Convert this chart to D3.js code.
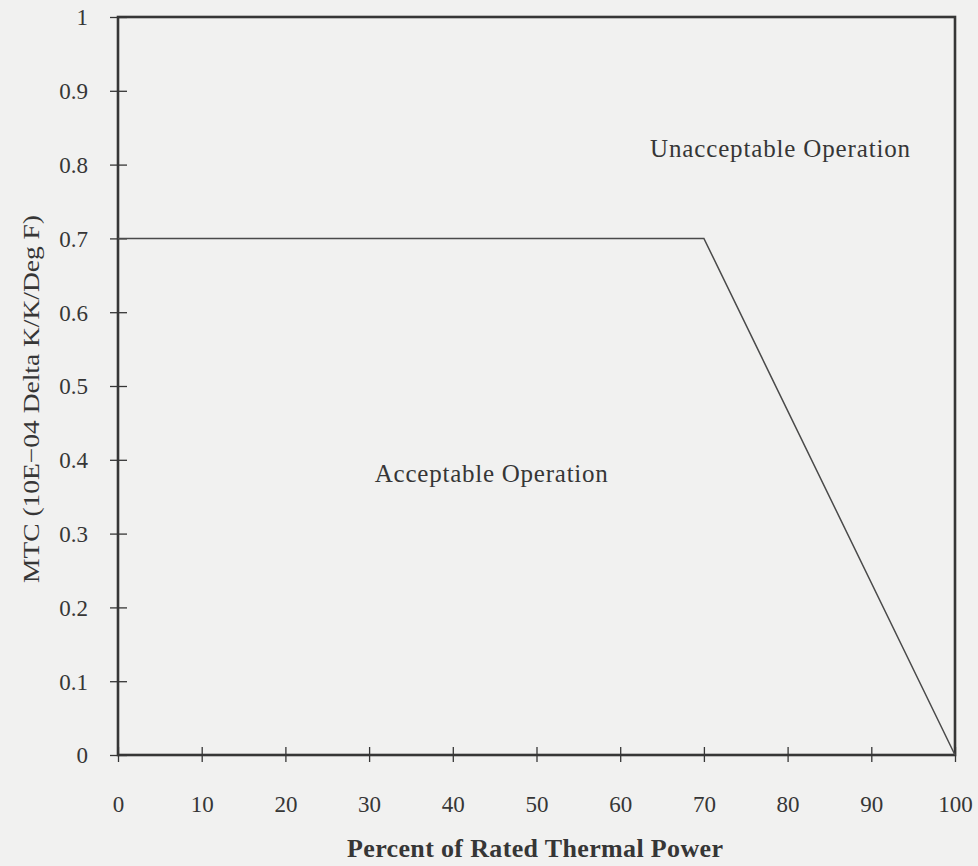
<!DOCTYPE html>
<html>
<head>
<meta charset="utf-8">
<script src="https://cdn.jsdelivr.net/npm/d3@7"></script>
<style>
  html, body { margin: 0; padding: 0; background: #f1f1f0; }
  svg { display: block; }
  text { font-family: "Liberation Serif", "DejaVu Serif", serif; fill: #363636; }
</style>
</head>
<body>
<svg id="chart" width="978" height="866"></svg>
<script>
// MTC limit versus reactor power
const powerPct = [0, 70, 100];
const mtcLimit = [0.7, 0.7, 0.0];

const xTicks = [0, 10, 20, 30, 40, 50, 60, 70, 80, 90, 100];
const yTicks = [0, 0.1, 0.2, 0.3, 0.4, 0.5, 0.6, 0.7, 0.8, 0.9, 1];

const regionLabels = ["Unacceptable Operation", "Acceptable Operation"];
const regionX = [79.1, 44.6];
const regionY = [0.81, 0.37];

const xTitle = "Percent of Rated Thermal Power";
const yTitle = "MTC (10E\u221204 Delta K/K/Deg F)";

const W = 978, H = 866;
const m = { left: 118, right: 23, top: 17, bottom: 111 };

const svg = d3.select("#chart");

const x = d3.scaleLinear().domain([0, 100]).range([m.left, W - m.right]);
const y = d3.scaleLinear().domain([0, 1]).range([H - m.bottom, m.top]);

const ink = "#363636";

// plot frame
svg.append("rect")
  .attr("x", x(0)).attr("y", y(1))
  .attr("width", x(100) - x(0)).attr("height", y(0) - y(1))
  .attr("fill", "none").attr("stroke", ink).attr("stroke-width", 2.6);

// axes with ticks crossing the frame
const xAxis = d3.axisBottom(x).tickValues(xTicks).tickSize(0).tickFormat(d => d);
const yAxis = d3.axisLeft(y).tickValues(yTicks).tickSize(0).tickFormat(d => d3.format("~g")(d));

const gx = svg.append("g").attr("transform", `translate(0,${y(0)})`).call(xAxis);
gx.select(".domain").remove();
gx.selectAll(".tick text")
  .attr("dy", 0).attr("y", 57)
  .style("font-size", "23px").attr("fill", ink);
gx.selectAll(".tick").append("line")
  .attr("y1", -8).attr("y2", 7).attr("stroke", ink).attr("stroke-width", 1.3);

const gy = svg.append("g").attr("transform", `translate(${x(0)},0)`).call(yAxis);
gy.select(".domain").remove();
gy.selectAll(".tick text")
  .attr("x", -30).attr("dy", "0.34em")
  .style("font-size", "23px").attr("fill", ink);
gy.selectAll(".tick").append("line")
  .attr("x1", -8).attr("x2", 9).attr("stroke", ink).attr("stroke-width", 1.3);

// limit curve
const line = d3.line().x((d, i) => x(powerPct[i])).y(d => y(d));
svg.append("path")
  .datum(mtcLimit)
  .attr("d", line)
  .attr("fill", "none").attr("stroke", "#4a4a4a").attr("stroke-width", 1.5);

// region labels
svg.selectAll(".region")
  .data(regionLabels)
  .join("text")
  .attr("class", "region")
  .attr("x", (d, i) => x(regionX[i]))
  .attr("y", (d, i) => y(regionY[i]))
  .attr("text-anchor", "middle")
  .style("font-size", "25px")
  .attr("textLength", (d, i) => [260, 233][i])
  .attr("lengthAdjust", "spacing")
  .text(d => d);

// axis titles
svg.append("text")
  .attr("x", 535).attr("y", 857)
  .attr("text-anchor", "middle")
  .style("font-size", "26px").style("font-weight", "bold")
  .attr("textLength", 376)
  .attr("lengthAdjust", "spacing")
  .text(xTitle);

svg.append("text")
  .attr("transform", `translate(39,399) rotate(-90)`)
  .attr("text-anchor", "middle")
  .style("font-size", "23px")
  .attr("textLength", 368)
  .attr("lengthAdjust", "spacingAndGlyphs")
  .text(yTitle);
</script>
</body>
</html>
